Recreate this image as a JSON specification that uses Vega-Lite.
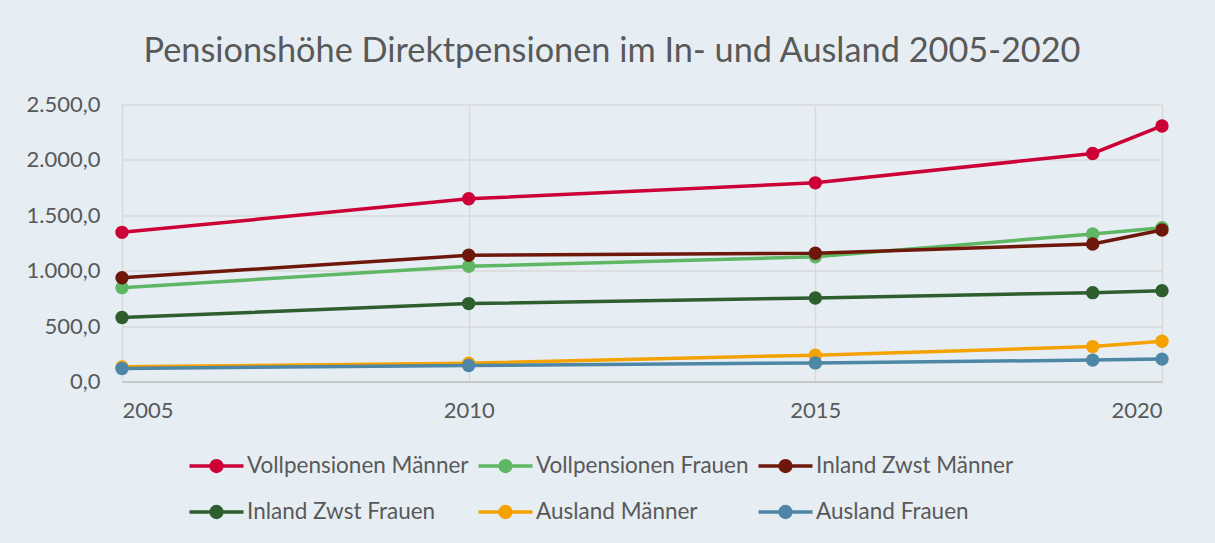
{
  "$schema": "https://vega.github.io/schema/vega-lite/v6.json",
  "autosize": {"type": "none"},
  "width": 1040,
  "height": 277,
  "padding": {"left": 122, "top": 104.5, "right": 53, "bottom": 161.5},
  "background": "#E6EEF4",
  "config": {
    "locale": {"number": {"decimal": ",", "thousands": ".", "grouping": [3], "currency": ["", " €"]}},
    "font": "Lato",
    "view": {"stroke": null},
    "axis": {"labelFont": "Lato", "labelColor": "#595959", "labelFontSize": 22, "gridColor": "#D9D9D9", "gridWidth": 1.5, "ticks": false, "domain": false}
  },
  "title": {
    "text": "Pensionshöhe Direktpensionen im In- und Ausland 2005-2020",
    "font": "Lato",
    "fontSize": 34.3,
    "fontWeight": "normal",
    "color": "#595959",
    "offset": 24,
    "dx": -30
  },
  "data": {"values": [
    {"series": "Vollpensionen Männer", "year": 2005, "value": 1346},
    {"series": "Vollpensionen Männer", "year": 2010, "value": 1649},
    {"series": "Vollpensionen Männer", "year": 2015, "value": 1793},
    {"series": "Vollpensionen Männer", "year": 2019, "value": 2058},
    {"series": "Vollpensionen Männer", "year": 2020, "value": 2306},
    {"series": "Vollpensionen Frauen", "year": 2005, "value": 847},
    {"series": "Vollpensionen Frauen", "year": 2010, "value": 1040},
    {"series": "Vollpensionen Frauen", "year": 2015, "value": 1126},
    {"series": "Vollpensionen Frauen", "year": 2019, "value": 1331},
    {"series": "Vollpensionen Frauen", "year": 2020, "value": 1387},
    {"series": "Inland Zwst Männer", "year": 2005, "value": 937},
    {"series": "Inland Zwst Männer", "year": 2010, "value": 1139},
    {"series": "Inland Zwst Männer", "year": 2015, "value": 1157},
    {"series": "Inland Zwst Männer", "year": 2019, "value": 1241},
    {"series": "Inland Zwst Männer", "year": 2020, "value": 1367},
    {"series": "Inland Zwst Frauen", "year": 2005, "value": 577},
    {"series": "Inland Zwst Frauen", "year": 2010, "value": 703},
    {"series": "Inland Zwst Frauen", "year": 2015, "value": 754},
    {"series": "Inland Zwst Frauen", "year": 2019, "value": 802},
    {"series": "Inland Zwst Frauen", "year": 2020, "value": 820},
    {"series": "Ausland Männer", "year": 2005, "value": 132},
    {"series": "Ausland Männer", "year": 2010, "value": 165},
    {"series": "Ausland Männer", "year": 2015, "value": 238},
    {"series": "Ausland Männer", "year": 2019, "value": 315},
    {"series": "Ausland Männer", "year": 2020, "value": 364},
    {"series": "Ausland Frauen", "year": 2005, "value": 118},
    {"series": "Ausland Frauen", "year": 2010, "value": 144},
    {"series": "Ausland Frauen", "year": 2015, "value": 168},
    {"series": "Ausland Frauen", "year": 2019, "value": 193},
    {"series": "Ausland Frauen", "year": 2020, "value": 202}
  ]},
  "encoding": {
    "x": {"field": "year", "type": "quantitative",
      "scale": {"domain": [2005, 2020], "nice": false, "zero": false},
      "axis": {"title": null, "values": [2005, 2010, 2015, 2020], "format": "d", "labelPadding": 19, "domain": true, "domainColor": "#BFBFBF", "domainWidth": 1.5}},
    "y": {"field": "value", "type": "quantitative",
      "scale": {"domain": [0, 2500], "nice": false},
      "axis": {"title": null, "values": [0, 500, 1000, 1500, 2000, 2500], "format": ",.1f", "labelPadding": 22}},
    "color": {"field": "series", "type": "nominal",
      "scale": {
        "domain": ["Vollpensionen Männer", "Vollpensionen Frauen", "Inland Zwst Männer", "Inland Zwst Frauen", "Ausland Männer", "Ausland Frauen"],
        "range": ["#CC0036", "#5FB764", "#6E180C", "#2E5E2E", "#F5A100", "#4D87A5"]
      },
      "legend": {
        "title": null,
        "orient": "none",
        "direction": "horizontal",
        "legendX": 79,
        "legendY": 346,
        "columns": 3,
        "columnPadding": 2,
        "rowPadding": 18,
        "labelFont": "Lato",
        "labelFontSize": 22.5,
        "labelColor": "#595959",
        "labelOffset": 15,
        "labelLimit": 500,
        "symbolType": "M-2,0L2,0M-0.4,0A0.4,0.4,0,1,1,0.4,0A0.4,0.4,0,1,1,-0.4,0Z",
        "symbolSize": 729,
        "symbolStrokeWidth": 3.5,
        "encode": {"symbols": {"update": {"fill": {"scale": "color", "field": "value"}, "stroke": {"scale": "color", "field": "value"}}}}
      }
    },
    "order": {"field": "year", "type": "quantitative"}
  },
  "layer": [
    {"mark": {"type": "line", "strokeWidth": 3.5}},
    {"mark": {"type": "point", "filled": true, "size": 180, "opacity": 1, "shape": "circle"}}
  ]
}
